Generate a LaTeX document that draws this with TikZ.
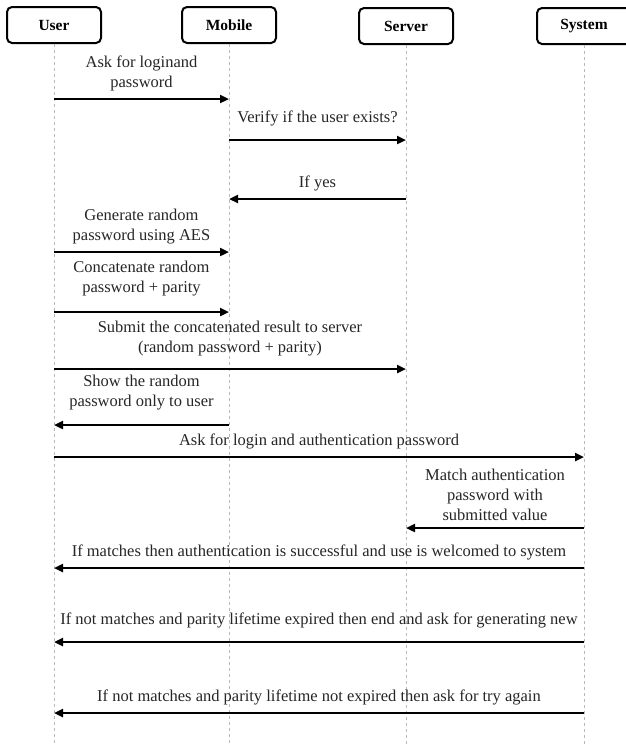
\documentclass[tikz,border=0pt]{standalone}
\usepackage{fontspec}
\setmainfont{Liberation Serif}
\usetikzlibrary{arrows.meta}

\begin{document}
\begin{tikzpicture}[
    x=1pt, y=-1pt,
    actor/.style={draw, line width=2pt, rounded corners=5pt, minimum width=94pt, minimum height=36pt, font=\fontsize{15.5}{17}\selectfont\bfseries},
    life/.style={draw=gray!55, dashed, line width=0.6pt},
    msg/.style={draw, line width=2.6pt, -{Triangle[length=9pt, width=8pt]}},
    lbl/.style={above=3pt, align=center, text=black!85, font=\fontsize{16.5}{20}\selectfont}
]
    \useasboundingbox (0,0) rectangle (626,745);

    % Nodes
    \node[actor] (user) at (54,25) {User};
    \node[actor] (mobile) at (229,25) {Mobile};
    \node[actor] (server) at (406,26) {Server};
    \node[actor] (system) at (584,26) {System};

    % Lifelines
    \draw[life] (user.south) -- (user |- 0,745);
    \draw[life] (mobile.south) -- (mobile |- 0,745);
    \draw[life] (server.south) -- (server |- 0,745);
    \draw[life] (system.south) -- (system |- 0,745);

    % Arrows
    \draw[msg] (user |- 0,99) -- node[lbl] {Ask for loginand\\password} (mobile |- 0,99);
    \draw[msg] (mobile |- 0,140) -- node[lbl, above=6pt] {Verify if the user exists?} (server |- 0,140);
    \draw[msg] (server |- 0,199) -- node[lbl] {If yes} (mobile |- 0,199);
    \draw[msg] (user |- 0,252) -- node[lbl] {Generate random\\password using AES} (mobile |- 0,252);
    \draw[msg] (user |- 0,312) -- node[lbl, above=8pt] {Concatenate random\\password + parity} (mobile |- 0,312);
    \draw[msg] (user |- 0,369) -- node[lbl, above=5pt] {Submit the concatenated result to server\\(random password + parity)} (server |- 0,369);
    \draw[msg] (mobile |- 0,425) -- node[lbl, above=7pt] {Show the random\\password only to user} (user |- 0,425);
    \draw[msg] (user |- 0,457) -- node[lbl] {Ask for login and authentication password} (system |- 0,457);
    \draw[msg] (system |- 0,528) -- node[lbl, above=0pt] {Match authentication\\password with\\submitted value} (server |- 0,528);
    \draw[msg] (system |- 0,568) -- node[lbl] {If matches then authentication is successful and use is welcomed to system} (user |- 0,568);
    \draw[msg] (system |- 0,642) -- node[lbl, above=6pt] {If not matches and parity lifetime expired then end and ask for generating new} (user |- 0,642);
    \draw[msg] (system |- 0,713) -- node[lbl] {If not matches and parity lifetime not expired then ask for try again} (user |- 0,713);
\end{tikzpicture}
\end{document}
